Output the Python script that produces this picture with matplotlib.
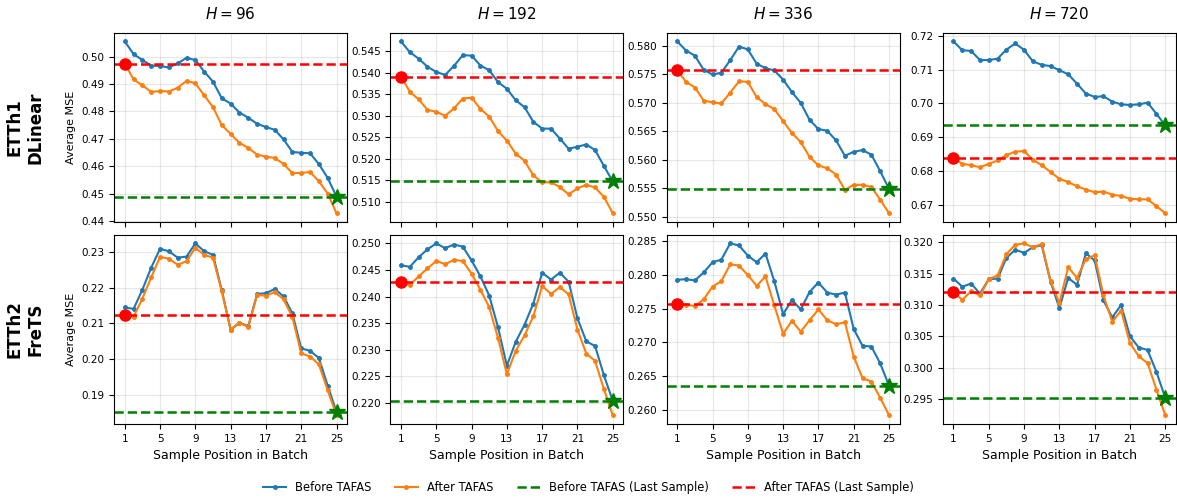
import numpy as np
import matplotlib
matplotlib.use("Agg")
import matplotlib.pyplot as plt

# sample positions within the batch
positions = np.arange(1, 26)
horizons = [96, 192, 336, 720]
row_labels = ["ETTh1\nDLinear", "ETTh2\nFreTS"]

# ETTh1 / DLinear  (before, after) per horizon
etth1_before_96 = [0.5056, 0.5010, 0.4988, 0.4968, 0.4966, 0.4961, 0.4976, 0.4996, 0.4988, 0.4946,
                   0.4909, 0.4848, 0.4829, 0.4796, 0.4777, 0.4755, 0.4743, 0.4733, 0.4698, 0.4652,
                   0.4649, 0.4647, 0.4608, 0.4557, 0.4489]
etth1_after_96 = [0.4975, 0.4917, 0.4896, 0.4871, 0.4875, 0.4873, 0.4887, 0.4912, 0.4903, 0.4859,
                  0.4816, 0.4750, 0.4718, 0.4685, 0.4667, 0.4642, 0.4635, 0.4630, 0.4608, 0.4575,
                  0.4575, 0.4579, 0.4545, 0.4500, 0.4428]
etth1_before_192 = [0.5473, 0.5448, 0.5433, 0.5414, 0.5402, 0.5395, 0.5416, 0.5441, 0.5440, 0.5417,
                    0.5406, 0.5378, 0.5363, 0.5336, 0.5320, 0.5286, 0.5270, 0.5270, 0.5247, 0.5223,
                    0.5228, 0.5233, 0.5220, 0.5183, 0.5147]
etth1_after_192 = [0.5391, 0.5356, 0.5338, 0.5314, 0.5309, 0.5300, 0.5317, 0.5340, 0.5342, 0.5316,
                   0.5298, 0.5264, 0.5242, 0.5212, 0.5195, 0.5161, 0.5145, 0.5145, 0.5134, 0.5117,
                   0.5131, 0.5139, 0.5133, 0.5111, 0.5073]
etth1_before_336 = [0.5808, 0.5792, 0.5783, 0.5758, 0.5750, 0.5753, 0.5775, 0.5799, 0.5794, 0.5769,
                    0.5761, 0.5757, 0.5741, 0.5719, 0.5700, 0.5670, 0.5654, 0.5651, 0.5634, 0.5607,
                    0.5614, 0.5617, 0.5609, 0.5580, 0.5549]
etth1_after_336 = [0.5757, 0.5737, 0.5727, 0.5704, 0.5701, 0.5699, 0.5718, 0.5738, 0.5737, 0.5710,
                   0.5698, 0.5689, 0.5668, 0.5647, 0.5631, 0.5605, 0.5590, 0.5585, 0.5574, 0.5547,
                   0.5556, 0.5556, 0.5552, 0.5530, 0.5506]
etth1_before_720 = [0.7183, 0.7157, 0.7155, 0.7128, 0.7128, 0.7132, 0.7159, 0.7177, 0.7158, 0.7124,
                    0.7114, 0.7110, 0.7098, 0.7086, 0.7058, 0.7029, 0.7019, 0.7021, 0.7005, 0.6997,
                    0.6995, 0.6997, 0.7002, 0.6969, 0.6935]
etth1_after_720 = [0.6838, 0.6821, 0.6817, 0.6811, 0.6821, 0.6831, 0.6847, 0.6857, 0.6859, 0.6833,
                   0.6817, 0.6797, 0.6777, 0.6767, 0.6755, 0.6745, 0.6737, 0.6739, 0.6730, 0.6726,
                   0.6718, 0.6716, 0.6716, 0.6696, 0.6675]

# ETTh2 / FreTS
etth2_before_96 = [0.2145, 0.2141, 0.2195, 0.2257, 0.2310, 0.2303, 0.2285, 0.2288, 0.2325, 0.2303,
                   0.2293, 0.2193, 0.2082, 0.2102, 0.2092, 0.2183, 0.2185, 0.2197, 0.2176, 0.2128,
                   0.2030, 0.2023, 0.2003, 0.1925, 0.1851]
etth2_after_96 = [0.2125, 0.2119, 0.2170, 0.2230, 0.2287, 0.2282, 0.2265, 0.2275, 0.2313, 0.2293,
                  0.2285, 0.2190, 0.2083, 0.2102, 0.2090, 0.2180, 0.2178, 0.2188, 0.2168, 0.2118,
                  0.2016, 0.2007, 0.1985, 0.1912, 0.1842]
etth2_before_192 = [0.2459, 0.2456, 0.2474, 0.2489, 0.2500, 0.2491, 0.2498, 0.2494, 0.2468, 0.2438,
                    0.2402, 0.2342, 0.2270, 0.2315, 0.2347, 0.2387, 0.2445, 0.2432, 0.2445, 0.2428,
                    0.2359, 0.2316, 0.2307, 0.2252, 0.2204]
etth2_after_192 = [0.2427, 0.2422, 0.2438, 0.2453, 0.2467, 0.2461, 0.2469, 0.2467, 0.2443, 0.2413,
                   0.2380, 0.2322, 0.2254, 0.2298, 0.2327, 0.2363, 0.2420, 0.2405, 0.2418, 0.2404,
                   0.2338, 0.2293, 0.2279, 0.2226, 0.2177]
etth2_before_336 = [0.2793, 0.2794, 0.2792, 0.2804, 0.2819, 0.2823, 0.2847, 0.2844, 0.2829, 0.2819,
                    0.2832, 0.2791, 0.2742, 0.2763, 0.2749, 0.2775, 0.2789, 0.2774, 0.2771, 0.2774,
                    0.2720, 0.2695, 0.2694, 0.2669, 0.2636]
etth2_after_336 = [0.2757, 0.2756, 0.2754, 0.2764, 0.2783, 0.2791, 0.2816, 0.2814, 0.2800, 0.2784,
                   0.2798, 0.2755, 0.2713, 0.2732, 0.2716, 0.2733, 0.2749, 0.2733, 0.2727, 0.2730,
                   0.2679, 0.2647, 0.2642, 0.2618, 0.2592]
etth2_before_720 = [0.3142, 0.3129, 0.3134, 0.3118, 0.3141, 0.3142, 0.3175, 0.3188, 0.3183, 0.3192,
                    0.3195, 0.3137, 0.3095, 0.3143, 0.3132, 0.3182, 0.3171, 0.3107, 0.3080, 0.3100,
                    0.3050, 0.3032, 0.3028, 0.2993, 0.2952]
etth2_after_720 = [0.3120, 0.3108, 0.3122, 0.3115, 0.3141, 0.3147, 0.3181, 0.3196, 0.3198, 0.3192,
                   0.3197, 0.3138, 0.3103, 0.3160, 0.3143, 0.3173, 0.3179, 0.3115, 0.3073, 0.3091,
                   0.3039, 0.3018, 0.3007, 0.2965, 0.2924]

before = [[etth1_before_96, etth1_before_192, etth1_before_336, etth1_before_720],
          [etth2_before_96, etth2_before_192, etth2_before_336, etth2_before_720]]
after = [[etth1_after_96, etth1_after_192, etth1_after_336, etth1_after_720],
         [etth2_after_96, etth2_after_192, etth2_after_336, etth2_after_720]]

fig, axes = plt.subplots(2, 4, figsize=(11.77, 4.98), dpi=100, sharex=True)
fig.subplots_adjust(left=0.097, right=0.999, top=0.934, bottom=0.149,
                    wspace=0.186, hspace=0.069)

for r in range(2):
    for c in range(4):
        ax = axes[r, c]
        b = before[r][c]
        a = after[r][c]
        ax.plot(positions, b, color='tab:blue', marker='o', markersize=2.5,
                linewidth=1.5, label='Before TAFAS')
        ax.plot(positions, a, color='tab:orange', marker='o', markersize=2.5,
                linewidth=1.5, label='After TAFAS')
        ax.axhline(b[-1], color='green', linestyle='--', linewidth=1.8,
                   label='Before TAFAS (Last Sample)')
        ax.axhline(a[0], color='red', linestyle='--', linewidth=1.8,
                   label='After TAFAS (Last Sample)')
        ax.plot(positions[0], a[0], 'o', color='red', markersize=8)
        ax.plot(positions[-1], b[-1], '*', color='green', markersize=12)
        ax.grid(True, alpha=0.3)
        ax.tick_params(labelsize=7.5)
        ax.set_xticks([1, 5, 9, 13, 17, 21, 25])
        if r == 0:
            ax.set_title(f"$H = {horizons[c]}$", fontsize=11, pad=10)
        else:
            ax.set_xlabel("Sample Position in Batch", fontsize=9)
        if c == 0:
            ax.set_ylabel("Average MSE", fontsize=8)

for r in range(2):
    pos = axes[r, 0].get_position()
    fig.text(0.021, (pos.y0 + pos.y1) / 2, row_labels[r], rotation=90,
             ha='center', va='center', fontsize=12, fontweight='bold')

handles, labels = axes[0, 0].get_legend_handles_labels()
fig.legend(handles, labels, loc='lower center', bbox_to_anchor=(0.5, -0.012),
           ncol=4, frameon=False, fontsize=8.3)

fig.savefig("out.png", dpi=100)
